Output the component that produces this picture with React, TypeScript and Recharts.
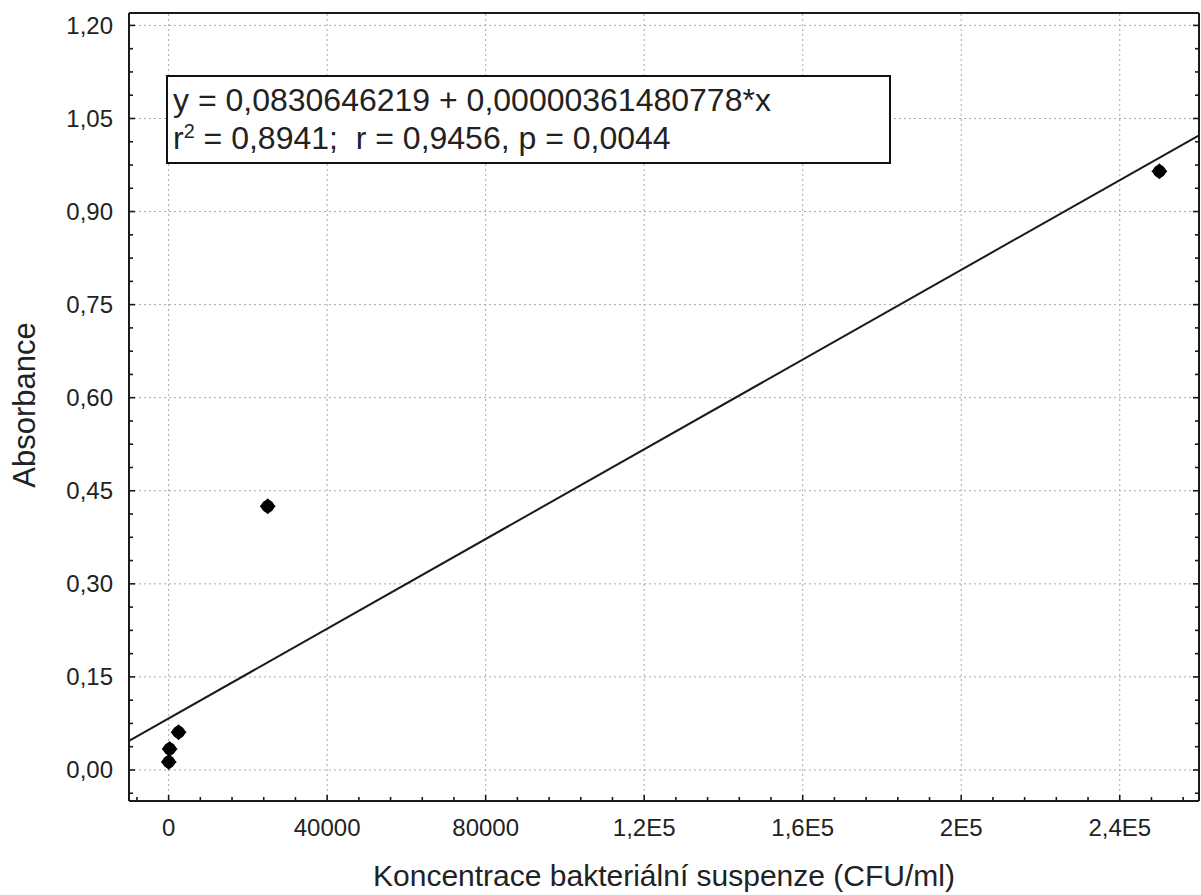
import { ReferenceLine, Scatter, ScatterChart, XAxis, YAxis } from "recharts";

// measured points (CFU/ml vs absorbance)
const concentrations = [25, 250, 2500, 25000, 250000];
const absorbances = [0.013, 0.034, 0.061, 0.425, 0.965];

// fitted line from the legend box
const intercept = 0.0830646219;
const slope = 0.00000361480778;

const xDomain: [number, number] = [-10000, 260000];
const yDomain: [number, number] = [-0.05, 1.22];

const xMajorTicks = [0, 40000, 80000, 120000, 160000, 200000, 240000];
const xTickLabels = ["0", "40000", "80000", "1,2E5", "1,6E5", "2E5", "2,4E5"];
const yMajorTicks = [0, 0.15, 0.3, 0.45, 0.6, 0.75, 0.9, 1.05, 1.2];
const yTickLabels = ["0,00", "0,15", "0,30", "0,45", "0,60", "0,75", "0,90", "1,05", "1,20"];

const points = concentrations.map((x, i) => ({ x, y: absorbances[i] }));

// minor ticks: 5 per major step on x, 4 per major step on y
function withMinors(majors: number[], parts: number, domain: [number, number]) {
  const step = (majors[1] - majors[0]) / parts;
  const out: number[] = [];
  const start = majors[0] - Math.floor((majors[0] - domain[0]) / step) * step;
  for (let v = start; v <= domain[1] + 1e-9; v += step) out.push(Math.round(v * 1e6) / 1e6);
  return out;
}
const xTicks = withMinors(xMajorTicks, 5, xDomain);
const yTicks = withMinors(yMajorTicks, 4, yDomain);

const majorIndex = (list: number[], v: number) => list.findIndex((m) => Math.abs(m - v) < 1e-6);

const ink = "#1a1a1a";
const font = "'Liberation Sans', Arial, sans-serif";

function BottomTick({ x, y, payload }: any) {
  const i = majorIndex(xMajorTicks, payload.value);
  return (
    <g>
      <line x1={x} x2={x} y1={y} y2={y - (i >= 0 ? 6 : 4)} stroke={ink} strokeWidth={1.6} />
      {i >= 0 && (
        <text x={x} y={y + 27} dy="0.35em" textAnchor="middle" fontSize={24} fill="#222" fontFamily={font}>
          {xTickLabels[i]}
        </text>
      )}
    </g>
  );
}

function TopTick({ x, y, payload }: any) {
  const i = majorIndex(xMajorTicks, payload.value);
  return <line x1={x} x2={x} y1={y} y2={y + (i >= 0 ? 6 : 4)} stroke={ink} strokeWidth={1.6} />;
}

function LeftTick({ x, y, payload }: any) {
  const i = majorIndex(yMajorTicks, payload.value);
  return (
    <g>
      <line x1={x} x2={x + (i >= 0 ? 6 : 4)} y1={y} y2={y} stroke={ink} strokeWidth={1.6} />
      {i >= 0 && (
        <text x={x - 16} y={y} dy="0.35em" textAnchor="end" fontSize={24} fill="#222" fontFamily={font}>
          {yTickLabels[i]}
        </text>
      )}
    </g>
  );
}

function RightTick({ x, y, payload }: any) {
  const i = majorIndex(yMajorTicks, payload.value);
  return <line x1={x} x2={x - (i >= 0 ? 6 : 4)} y1={y} y2={y} stroke={ink} strokeWidth={1.6} />;
}

function Marker({ cx, cy }: any) {
  return (
    <g fill="#000">
      <path d={`M${cx},${cy - 8}L${cx + 8},${cy}L${cx},${cy + 8}L${cx - 8},${cy}Z`} />
      <circle cx={cx} cy={cy} r={6.3} />
    </g>
  );
}

const gridStroke = { stroke: "#a8a8a8", strokeWidth: 1, strokeDasharray: "2 3" };

export default function App() {
  return (
    <div style={{ position: "absolute", left: 0, top: 0, width: 1201, height: 895, background: "#fff" }}>
      <ScatterChart width={1201} height={895} margin={{ top: 0, right: 0, bottom: 0, left: 0 }}>
        <XAxis
          xAxisId="bottom"
          dataKey="x"
          type="number"
          domain={xDomain}
          allowDataOverflow
          ticks={xTicks}
          interval={0}
          height={94}
          tickSize={0}
          tickMargin={0}
          tickLine={false}
          tick={<BottomTick />}
          axisLine={{ stroke: ink, strokeWidth: 2 }}
          label={{
            content: ({ viewBox }: any) => (
              <text x={viewBox.x + viewBox.width / 2} y={886} textAnchor="middle" fontSize={30} fill="#222" fontFamily={font}>
                Koncentrace bakteriální suspenze (CFU/ml)
              </text>
            ),
          }}
        />
        <XAxis
          xAxisId="top"
          orientation="top"
          type="number"
          domain={xDomain}
          allowDataOverflow
          ticks={xTicks}
          interval={0}
          height={13}
          tickSize={0}
          tickMargin={0}
          tickLine={false}
          tick={<TopTick />}
          axisLine={{ stroke: ink, strokeWidth: 2 }}
        />
        <YAxis
          yAxisId="left"
          dataKey="y"
          type="number"
          domain={yDomain}
          allowDataOverflow
          ticks={yTicks}
          interval={0}
          width={129}
          tickSize={0}
          tickMargin={0}
          tickLine={false}
          tick={<LeftTick />}
          axisLine={{ stroke: ink, strokeWidth: 2 }}
          label={{
            content: ({ viewBox }: any) => {
              const cy = viewBox.y + viewBox.height / 2 - 2;
              return (
                <text x={35} y={cy} transform={`rotate(-90, 35, ${cy})`} textAnchor="middle" fontSize={31} fill="#222" fontFamily={font}>
                  Absorbance
                </text>
              );
            },
          }}
        />
        <YAxis
          yAxisId="right"
          orientation="right"
          type="number"
          domain={yDomain}
          allowDataOverflow
          ticks={yTicks}
          interval={0}
          width={2}
          tickSize={0}
          tickMargin={0}
          tickLine={false}
          tick={<RightTick />}
          axisLine={{ stroke: ink, strokeWidth: 2 }}
        />
        {xMajorTicks.map((v) => (
          <ReferenceLine key={`gx${v}`} xAxisId="bottom" yAxisId="left" x={v} {...gridStroke} />
        ))}
        {yMajorTicks.map((v) => (
          <ReferenceLine key={`gy${v}`} xAxisId="bottom" yAxisId="left" y={v} {...gridStroke} />
        ))}
        <ReferenceLine
          xAxisId="bottom"
          yAxisId="left"
          ifOverflow="visible"
          segment={[
            { x: xDomain[0], y: intercept + slope * xDomain[0] },
            { x: xDomain[1], y: intercept + slope * xDomain[1] },
          ]}
          stroke={ink}
          strokeWidth={2}
        />
        <Scatter xAxisId="bottom" yAxisId="left" data={points} shape={<Marker />} isAnimationActive={false} />
      </ScatterChart>
      <div
        style={{
          position: "absolute",
          left: 166,
          top: 75,
          width: 716,
          height: 81,
          border: "2px solid #111",
          background: "#fff",
          padding: "4px 0 0 5px",
          boxSizing: "content-box",
          fontFamily: font,
          fontSize: 32,
          lineHeight: "38px",
          color: "#222",
          whiteSpace: "pre",
        }}
      >
        <div>y = 0,0830646219 + 0,00000361480778*x</div>
        <div>
          r<sup style={{ fontSize: "0.62em", lineHeight: 0, verticalAlign: "0.55em" }}>2</sup> = 0,8941;  r = 0,9456, p = 0,0044
        </div>
      </div>
    </div>
  );
}
